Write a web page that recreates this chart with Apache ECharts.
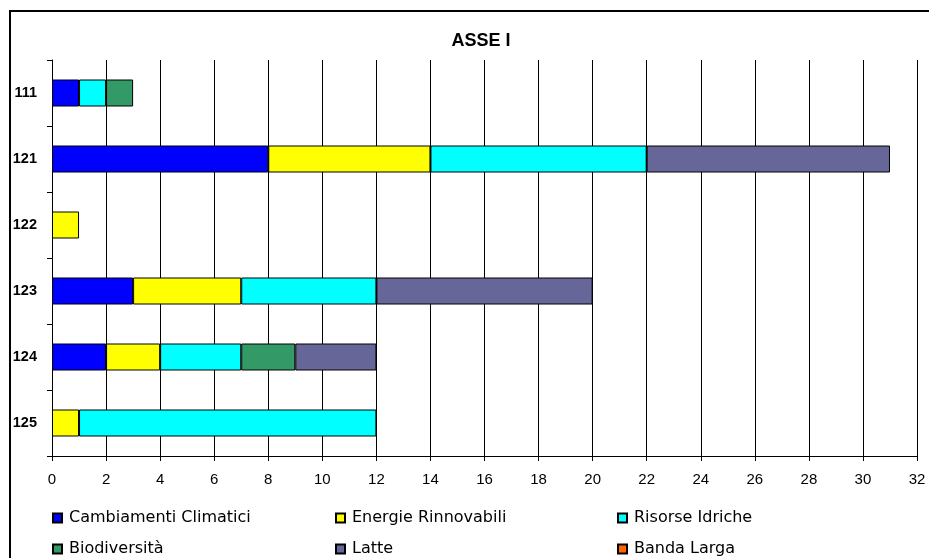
<!DOCTYPE html>
<html><head><meta charset="utf-8">
<script src="https://cdn.jsdelivr.net/npm/echarts@6/dist/echarts.min.js"></script>
<style>html,body{margin:0;padding:0;background:#fff}#c{width:929px;height:558px}</style>
</head><body><div id="c"></div>
<script>
var categories = ['111','121','122','123','124','125'];
var seriesNames = ['Cambiamenti Climatici','Energie Rinnovabili','Risorse Idriche','Biodiversità','Latte','Banda Larga'];
var cambiamenti = [1, 8, 0, 3, 2, 0];
var energie     = [0, 6, 1, 4, 2, 1];
var risorse     = [1, 8, 0, 5, 3, 11];
var biodiv      = [1, 0, 0, 0, 2, 0];
var latte       = [0, 9, 0, 8, 3, 0];
var banda       = [0, 0, 0, 0, 0, 0];
var colors = ['#0000FF','#FFFF00','#00FFFF','#339966','#666699','#FF6600'];
var values = [cambiamenti, energie, risorse, biodiv, latte, banda];

var chart = echarts.init(document.getElementById('c'));
var legendPos = [[52,510],[335,510],[617,510],[52,541],[335,541],[617,541]];
var legends = seriesNames.map(function(n,i){
  return {data:[n], left:legendPos[i][0], top:legendPos[i][1], itemWidth:9, itemHeight:9, itemGap:0,
    icon:'rect', padding:0,
    textStyle:{fontFamily:'DejaVu Sans', fontSize:16, color:'#000', padding:[0,0,0,2]}};
});
var series = seriesNames.map(function(n,i){
  return {name:n, type:'bar', stack:'t', barWidth:27, data:values[i].map(function(v){return v===0?null:v;}),
    itemStyle:{color:colors[i], borderColor:'#000', borderWidth:1}};
});
chart.setOption({
  animation:false,
  title:{text:'ASSE I', left:476, textAlign:'center', top:27,
    textStyle:{fontFamily:'Liberation Sans', fontWeight:'bold', fontSize:18, color:'#000'}},
  legend:legends,
  grid:{left:52, right:12, top:60, bottom:102, containLabel:false},
  xAxis:{type:'value', min:0, max:32, interval:2,
    axisLine:{show:true, lineStyle:{color:'#000'}},
    axisTick:{show:true, length:5, lineStyle:{color:'#000'}},
    axisLabel:{fontFamily:'Liberation Sans', fontSize:15, color:'#000', margin:16},
    splitLine:{show:true, lineStyle:{color:'#000', width:1}}},
  yAxis:{type:'category', data:categories, inverse:true,
    axisLine:{show:true, lineStyle:{color:'#000'}},
    axisTick:{show:true, length:5, lineStyle:{color:'#000'}},
    axisLabel:{fontFamily:'Liberation Sans', fontWeight:'bold', fontSize:14.5, color:'#000', margin:15}},
  graphic:[{type:'rect', shape:{x:10, y:11, width:940, height:600}, style:{fill:'none', stroke:'#000', lineWidth:2}, silent:true, z:-1}],
  series:series
});
</script></body></html>
